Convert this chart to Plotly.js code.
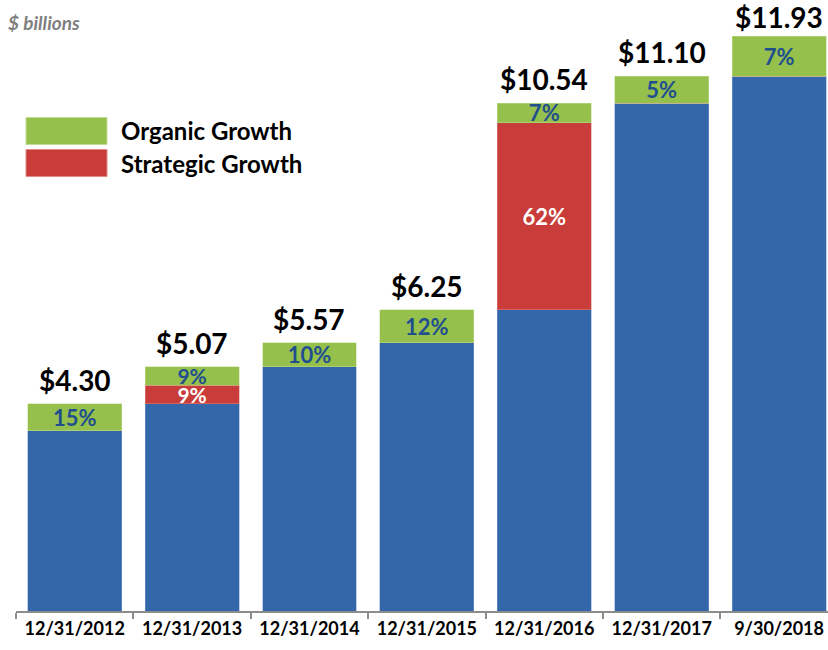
<!DOCTYPE html>
<html>
<head>
<meta charset="utf-8">
<script src="https://cdn.plot.ly/plotly-3.0.1.min.js"></script>
<style>html,body{margin:0;padding:0;background:#fff;}#chart{width:828px;height:650px;}</style>
</head>
<body>
<div id="chart"></div>
<script>
const dates = ['12/31/2012', '12/31/2013', '12/31/2014', '12/31/2015', '12/31/2016', '12/31/2017', '9/30/2018'];
const baseValues = [3.74, 4.30, 5.07, 5.57, 6.25, 10.54, 11.10];
const strategicValues = [0, 0.39, 0, 0, 3.88, 0, 0];
const organicValues = [0.56, 0.38, 0.50, 0.68, 0.41, 0.56, 0.83];
const totals = [4.30, 5.07, 5.57, 6.25, 10.54, 11.10, 11.93];
const organicPct = ['15%', '9%', '10%', '12%', '7%', '5%', '7%'];
const strategicPct = ['', '9%', '', '', '62%', '', ''];
const legendLabels = ['Organic Growth', 'Strategic Growth'];
const unitLabel = '$ billions';

const FONT = 'Lato, "Open Sans", sans-serif';
const BLUE = '#3466aa';
const GREEN = '#96c04c';
const RED = '#c83d3a';
const PCT_BLUE = '#214f8e';

// thin stacked segments (both strategic and organic in one bar) get a slightly smaller label
const sizesFor = (vals) => vals.map((v, k) => (strategicValues[k] > 0 && strategicValues[k] < 1) ? 21 : 22);

const traces = [
  {
    type: 'bar', x: dates, y: baseValues, name: 'Base',
    marker: {color: BLUE, line: {color: '#7f9fcf', width: 0.5}},
    hoverinfo: 'skip'
  },
  {
    type: 'bar', x: dates, y: strategicValues, name: legendLabels[1],
    marker: {color: RED, line: {color: '#e08a88', width: 0.5}},
    text: strategicPct, textposition: 'inside', insidetextanchor: 'middle',
    constraintext: 'none', textangle: 0,
    textfont: {family: FONT, size: sizesFor(strategicValues), color: '#ffffff', weight: 'bold'},
    hoverinfo: 'skip'
  },
  {
    type: 'bar', x: dates, y: organicValues, name: legendLabels[0],
    marker: {color: GREEN, line: {color: '#c4dd96', width: 0.5}},
    text: organicPct, textposition: 'inside', insidetextanchor: 'middle',
    constraintext: 'none', textangle: 0,
    textfont: {family: FONT, size: sizesFor(organicValues), color: PCT_BLUE, weight: 'bold'},
    hoverinfo: 'skip'
  }
];

const annotations = totals.map((t, i) => ({
  x: dates[i], y: t, xref: 'x', yref: 'y',
  text: '$' + t.toFixed(2), showarrow: false,
  yanchor: 'bottom', yshift: i === totals.length - 1 ? 0 : 5,
  font: {family: FONT, size: 28, color: '#000000', weight: 'bold'}
}));

annotations.push({
  xref: 'paper', yref: 'paper', x: -0.012, y: 0.963, xanchor: 'left', yanchor: 'middle',
  text: '<b><i>' + unitLabel + '</i></b>', showarrow: false,
  font: {family: FONT, size: 19, color: '#7f7f7f'}
});

const legendColors = [GREEN, RED];
const legendYs = [131, 163];
const shapes = [];
const plotTop = 0, plotBottom = 611;
function py(px) { return 1 - (px - plotTop) / (plotBottom - plotTop); }
function pxX(px) { return (px - 16) / (828 - 16); }
legendLabels.forEach((lab, k) => {
  shapes.push({
    type: 'rect', xref: 'paper', yref: 'paper',
    x0: pxX(26), x1: pxX(107), y0: py(legendYs[k] + 13.5), y1: py(legendYs[k] - 13.5),
    fillcolor: legendColors[k], line: {color: k === 0 ? '#c4dd96' : '#e08a88', width: 1}
  });
  annotations.push({
    xref: 'paper', yref: 'paper', x: pxX(119), y: py(legendYs[k]),
    xanchor: 'left', yanchor: 'middle', showarrow: false,
    text: lab, font: {family: FONT, size: 24, color: '#000000', weight: 'bold'}
  });
});

const layout = {
  width: 828, height: 650,
  margin: {l: 16, r: 0, t: 0, b: 39},
  paper_bgcolor: '#ffffff', plot_bgcolor: '#ffffff',
  barmode: 'stack', bargap: 0.2,
  showlegend: false,
  xaxis: {
    type: 'category', range: [-0.5, 6.417],
    showline: true, linecolor: '#8c8c8c', linewidth: 2,
    ticks: 'outside', tickson: 'boundaries', ticklen: 6, tickwidth: 2, tickcolor: '#8c8c8c',
    tickfont: {family: FONT, size: 18, color: '#000000', weight: 'bold'},
    showgrid: false, zeroline: false, fixedrange: true
  },
  yaxis: {
    range: [0, 12.68], visible: false, showgrid: false, zeroline: false, fixedrange: true
  },
  annotations: annotations,
  shapes: shapes
};

Plotly.newPlot('chart', traces, layout, {displayModeBar: false, staticPlot: true});
</script>
</body>
</html>
